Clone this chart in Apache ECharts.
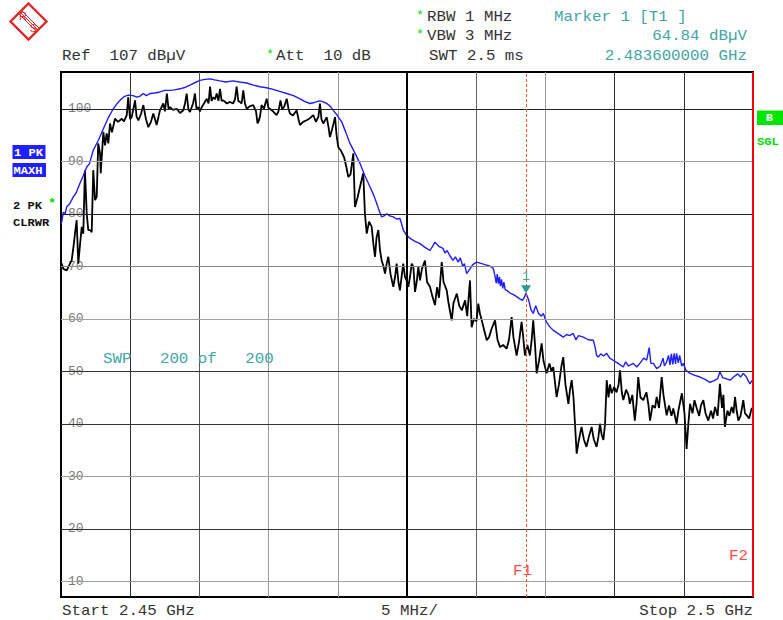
<!DOCTYPE html>
<html><head><meta charset="utf-8">
<script src="https://cdn.jsdelivr.net/npm/echarts@6/dist/echarts.min.js"></script>
<style>html,body{margin:0;padding:0;background:#fff}#c{width:783px;height:620px}</style>
</head><body><div id="c"></div>
<script>
// ---- axis definitions ----
const freqStart = 2450;   // MHz
const freqStop = 2500;    // MHz
const freqDiv = 5;        // MHz / div
const levelMin = 7;       // dBuV
const levelRef = 107;     // dBuV
const levelTicks = [10, 20, 30, 40, 50, 60, 70, 80, 90, 100];
const levelTickColors = ['#a0a0a0', '#333333', '#a0a0a0', '#333333', '#333333', '#a0a0a0', '#888888', '#222222', '#a0a0a0', '#222222'];
const freqLineColors = ['#000000', '#333333', '#555555', '#999999', '#999999', '#000000', '#666666', '#999999', '#333333', '#333333', '#000000'];

// ---- marker ----
const markerFreq = 2483.6;
const markerLevel = 64.84;

// ---- trace 1: PK MAXH (blue) ----
const maxhFreq = [2450.00,2450.05,2450.17,2450.30,2450.41,2450.65,2450.89,2451.10,2451.37,2451.60,2451.86,2452.05,2452.33,2452.70,2453.06,2453.40,2453.78,2454.00,2454.26,2454.55,2454.86,2455.20,2455.50,2455.71,2455.95,2456.15,2456.43,2456.80,2457.15,2457.50,2457.88,2458.20,2458.60,2459.00,2459.32,2459.70,2460.04,2460.40,2460.77,2461.10,2461.49,2461.90,2462.43,2462.90,2463.42,2463.90,2464.38,2464.85,2465.32,2465.80,2466.31,2466.80,2467.27,2467.60,2467.99,2468.30,2468.71,2468.95,2469.20,2469.45,2469.67,2469.95,2470.28,2470.58,2470.88,2471.25,2471.60,2471.95,2472.33,2472.60,2472.81,2473.00,2473.17,2473.35,2473.53,2473.75,2474.01,2474.25,2474.49,2474.62,2474.73,2474.95,2475.22,2475.55,2475.94,2476.30,2476.66,2476.85,2477.02,2477.30,2477.60,2477.75,2477.90,2478.10,2478.32,2478.50,2478.70,2478.85,2479.04,2479.15,2479.31,2479.55,2479.75,2480.03,2480.40,2480.76,2481.00,2481.23,2481.35,2481.45,2481.52,2481.60,2481.68,2481.75,2481.83,2481.92,2482.00,2482.10,2482.20,2482.45,2482.70,2482.92,2483.15,2483.35,2483.50,2483.60,2483.80,2483.95,2484.12,2484.30,2484.50,2484.70,2484.85,2485.05,2485.30,2485.57,2485.90,2486.29,2486.55,2486.75,2487.01,2487.20,2487.40,2487.74,2488.10,2488.46,2488.60,2488.70,2488.82,2489.00,2489.20,2489.43,2489.65,2489.90,2490.25,2490.63,2490.80,2491.00,2491.35,2491.60,2491.85,2492.10,2492.32,2492.50,2492.62,2492.80,2493.04,2493.30,2493.50,2493.60,2493.76,2493.90,2494.00,2494.10,2494.20,2494.30,2494.40,2494.48,2494.60,2494.70,2494.85,2494.96,2495.15,2495.45,2495.80,2496.17,2496.50,2496.89,2497.20,2497.45,2497.61,2497.80,2498.05,2498.34,2498.60,2498.90,2499.10,2499.30,2499.50,2499.78,2499.92,2500.00];
const maxhLevel = [78.0,78.4,80.3,80.0,81.3,82.0,83.2,84.0,85.8,87.2,88.9,89.5,92.1,94.0,96.2,98.2,100.0,100.8,101.6,102.3,102.6,102.5,102.2,102.4,102.9,102.5,102.9,103.0,103.2,103.5,103.5,103.6,103.8,104.1,104.5,105.0,105.4,105.6,105.7,105.5,105.3,105.1,105.3,105.1,104.9,104.5,104.2,104.0,103.7,103.3,102.9,102.5,101.9,101.4,101.0,101.2,101.5,101.3,101.0,100.5,99.7,98.8,97.5,95.5,93.4,91.5,89.6,87.3,85.1,83.5,82.0,80.5,79.4,79.6,80.0,79.6,79.4,79.0,79.1,78.0,76.9,76.0,75.3,74.8,74.3,73.6,73.0,73.8,74.6,73.8,73.4,72.5,73.0,72.0,71.1,71.8,70.8,71.6,69.9,70.5,68.6,69.5,70.3,70.8,70.5,70.2,70.0,69.6,68.2,66.8,68.5,66.7,68.0,66.2,67.5,65.8,67.0,65.5,65.4,64.9,64.6,64.2,63.8,63.5,64.2,64.84,63.5,61.8,61.0,62.5,61.0,60.5,61.0,59.5,58.5,57.8,57.2,56.5,57.0,56.8,57.2,56.0,56.8,56.5,56.0,55.9,54.5,53.0,52.7,53.3,52.9,53.4,52.5,52.1,51.5,50.8,51.8,51.0,51.5,50.8,51.6,52.5,52.1,54.5,51.5,51.5,50.5,51.0,52.5,51.0,51.8,53.0,51.2,53.3,51.3,53.4,51.4,53.4,51.6,53.0,51.0,51.5,50.2,49.6,49.2,48.9,48.5,47.9,48.2,48.6,49.9,48.8,48.6,48.3,48.9,49.5,48.9,49.6,49.0,47.6,48.2,48.0];

// ---- trace 2: PK CLRWR (black) ----
const clrwrFreq = [2450.00,2450.05,2450.17,2450.41,2450.65,2450.77,2450.90,2451.01,2451.13,2451.25,2451.37,2451.50,2451.61,2451.73,2451.86,2451.97,2452.10,2452.22,2452.33,2452.46,2452.58,2452.69,2452.82,2452.87,2453.06,2453.18,2453.30,2453.42,2453.54,2453.68,2453.90,2454.12,2454.39,2454.55,2454.75,2454.86,2454.99,2455.11,2455.35,2455.46,2455.59,2455.78,2455.95,2456.14,2456.31,2456.50,2456.67,2456.91,2457.15,2457.39,2457.51,2457.65,2457.77,2457.88,2458.09,2458.36,2458.60,2458.84,2458.96,2459.08,2459.21,2459.32,2459.54,2459.68,2459.79,2459.92,2460.04,2460.17,2460.33,2460.53,2460.66,2460.77,2460.88,2461.01,2461.13,2461.25,2461.38,2461.49,2461.61,2461.73,2461.98,2462.21,2462.43,2462.57,2462.69,2462.81,2462.93,2463.05,2463.17,2463.29,2463.42,2463.66,2463.89,2464.09,2464.20,2464.26,2464.38,2464.49,2464.66,2464.86,2464.99,2465.10,2465.32,2465.58,2465.71,2465.86,2465.99,2466.14,2466.31,2466.44,2466.54,2466.76,2467.03,2467.16,2467.27,2467.49,2467.75,2467.99,2468.23,2468.42,2468.60,2468.71,2468.82,2468.95,2469.20,2469.33,2469.43,2469.58,2469.80,2469.91,2470.03,2470.23,2470.45,2470.61,2470.76,2470.92,2471.12,2471.24,2471.42,2471.60,2471.84,2471.96,2472.09,2472.26,2472.45,2472.58,2472.69,2472.80,2472.93,2473.05,2473.17,2473.30,2473.41,2473.53,2473.65,2473.81,2474.01,2474.14,2474.25,2474.38,2474.49,2474.61,2474.73,2474.85,2474.97,2475.09,2475.22,2475.34,2475.46,2475.58,2475.70,2475.82,2475.94,2476.08,2476.30,2476.45,2476.66,2476.81,2477.02,2477.17,2477.31,2477.51,2477.64,2477.87,2478.00,2478.23,2478.36,2478.60,2478.77,2478.96,2479.20,2479.35,2479.55,2479.67,2479.84,2480.02,2480.15,2480.27,2480.40,2480.56,2480.76,2480.93,2481.10,2481.36,2481.54,2481.72,2481.94,2482.20,2482.37,2482.56,2482.69,2482.92,2483.09,2483.28,2483.38,2483.52,2483.70,2483.88,2484.01,2484.12,2484.25,2484.37,2484.54,2484.73,2484.86,2485.09,2485.29,2485.44,2485.57,2485.81,2485.98,2486.16,2486.29,2486.45,2486.66,2486.78,2486.90,2487.03,2487.26,2487.39,2487.61,2487.78,2487.97,2488.14,2488.34,2488.50,2488.70,2488.83,2488.94,2489.06,2489.19,2489.31,2489.43,2489.56,2489.67,2489.79,2489.96,2490.14,2490.29,2490.39,2490.52,2490.63,2490.83,2491.00,2491.10,2491.28,2491.46,2491.59,2491.71,2491.87,2492.07,2492.30,2492.45,2492.56,2492.74,2492.92,2493.04,2493.21,2493.40,2493.53,2493.76,2493.93,2494.11,2494.24,2494.48,2494.61,2494.86,2495.05,2495.20,2495.33,2495.45,2495.63,2495.77,2495.94,2496.11,2496.24,2496.41,2496.57,2496.77,2496.97,2497.11,2497.26,2497.44,2497.61,2497.76,2497.86,2497.97,2498.15,2498.29,2498.46,2498.59,2498.70,2498.82,2498.94,2499.10,2499.30,2499.42,2499.55,2499.72,2499.90,2500.00];
const clrwrLevel = [70.0,70.5,69.5,69.2,70.5,71.1,73.7,76.2,78.8,70.5,74.0,77.5,76.2,88.3,80.0,76.9,76.9,76.5,88.3,82.6,83.2,93.4,91.5,87.7,95.6,93.0,95.3,93.4,97.2,95.5,98.1,97.5,98.1,97.6,98.8,102.2,98.0,98.4,101.6,98.5,97.8,99.0,100.7,98.0,96.5,97.5,99.1,96.9,99.7,101.0,99.5,102.9,100.0,100.3,99.8,100.0,99.2,99.7,101.0,102.9,99.8,99.4,101.0,102.9,100.0,100.3,99.5,100.3,101.0,101.9,101.0,104.2,101.5,102.2,101.8,102.9,101.5,103.8,101.5,101.6,101.0,101.3,101.0,101.8,104.2,101.5,101.3,101.0,103.5,101.0,100.0,100.5,100.7,99.5,97.2,97.5,98.5,100.7,100.0,101.9,100.2,100.0,99.5,98.8,99.5,101.6,99.8,100.5,101.9,100.0,99.1,98.7,99.7,98.0,96.9,97.5,97.8,98.2,98.8,97.5,98.5,101.0,98.0,97.2,98.4,96.5,94.6,96.0,98.4,95.0,92.7,92.0,90.8,89.0,87.0,87.5,91.5,81.3,83.0,85.1,87.7,80.0,76.2,78.5,77.5,74.0,71.8,75.5,76.9,73.0,71.1,70.0,68.6,70.5,71.8,68.5,66.1,68.0,70.5,67.0,65.4,68.0,70.5,68.0,67.3,66.1,68.0,70.5,69.9,65.1,67.0,69.9,67.3,69.5,71.1,67.0,66.1,64.5,62.6,66.0,64.0,70.8,67.0,65.4,63.0,59.7,63.0,64.8,62.5,61.6,63.5,60.5,67.3,58.4,60.0,59.5,62.9,61.0,59.7,58.0,55.9,56.5,58.0,59.7,56.0,54.6,55.0,54.3,56.0,60.3,56.5,53.0,55.5,59.4,57.0,53.0,55.0,53.0,56.0,59.7,55.0,49.6,52.0,55.3,52.0,49.6,51.5,50.0,50.8,45.1,47.5,51.0,52.7,47.5,43.8,46.5,48.3,45.0,34.3,36.5,39.4,37.0,35.6,37.5,39.4,37.0,35.6,37.5,40.0,38.0,36.9,40.0,48.3,45.0,47.5,45.8,47.0,46.0,47.5,50.2,46.0,44.5,46.5,45.5,43.8,45.5,40.6,44.0,48.9,45.0,44.5,46.0,43.5,40.6,43.5,43.0,45.1,43.0,48.9,45.5,41.6,43.5,41.5,42.9,40.0,42.5,45.8,42.0,35.2,40.0,43.8,42.0,44.5,42.9,41.5,43.5,44.5,42.0,40.6,42.5,41.0,43.2,41.5,47.6,43.0,45.5,39.4,42.5,41.5,43.2,42.0,45.1,42.5,40.6,41.5,44.5,42.0,41.6,41.0,42.9,43.0];

const MONO = '"Liberation Mono", "DejaVu Sans Mono", monospace';
const TEAL = '#3fa5a5';
const GREEN = '#00dd00';
const LOGO = '#e02828';

function txt(x, y, text, color, o) {
  o = o || {};
  return {
    type: 'text', x: x, y: y, scaleX: o.sx || 1.13, z: 20,
    style: {
      text: text, fill: color, fontFamily: MONO, fontSize: o.fs || 14,
      fontWeight: o.fw || 'normal', align: o.align || 'left', verticalAlign: 'middle'
    }
  };
}

const chart = echarts.init(document.getElementById('c'), null, {renderer: 'svg'});

const graphics = [
  // R&S logo
  {type: 'polygon', z: 20, shape: {points: [[28.5, 3.5], [46.5, 21.5], [28.5, 39.5], [10.5, 21.5]]},
   style: {fill: '#fff', stroke: LOGO, lineWidth: 2.4}},
  {type: 'line', z: 20, shape: {x1: 18.2, y1: 13.2, x2: 36.8, y2: 31.8}, style: {stroke: LOGO, lineWidth: 1}},
  {type: 'line', z: 20, shape: {x1: 19.7, y1: 11.7, x2: 38.3, y2: 30.3}, style: {stroke: LOGO, lineWidth: 1}},
  {type: 'line', z: 20, shape: {x1: 21.2, y1: 10.2, x2: 39.8, y2: 28.8}, style: {stroke: LOGO, lineWidth: 1}},
  {type: 'text', z: 21, x: 23, y: 15.5, style: {text: 'R', fill: LOGO, fontFamily: '"Liberation Sans", Arial', fontSize: 11, align: 'center', verticalAlign: 'middle'}},
  {type: 'text', z: 21, x: 33.5, y: 28, style: {text: 'S', fill: LOGO, fontFamily: '"Liberation Sans", Arial', fontSize: 11, align: 'center', verticalAlign: 'middle'}},

  // header
  txt(62, 56, 'Ref  107 dBµV', '#333'),
  txt(266, 55, '*', GREEN, {fs: 12}),
  txt(276, 56, 'Att  10 dB', '#333'),
  txt(416, 16, '*', GREEN, {fs: 12}),
  txt(427, 17, 'RBW 1 MHz', '#333'),
  txt(416, 35, '*', GREEN, {fs: 12}),
  txt(427, 36, 'VBW 3 MHz', '#333'),
  txt(429, 56, 'SWT 2.5 ms', '#333'),
  txt(554, 17, 'Marker 1 [T1 ]', TEAL),
  txt(747, 36, '64.84 dBµV', TEAL, {align: 'right'}),
  txt(747, 56, '2.483600000 GHz', TEAL, {align: 'right'}),

  // footer
  txt(62, 611, 'Start 2.45 GHz', '#333'),
  txt(381, 611, '5 MHz/', '#333'),
  txt(753, 611, 'Stop 2.5 GHz', '#333', {align: 'right'}),

  // trace info boxes
  {type: 'rect', z: 20, shape: {x: 12.5, y: 145, width: 33, height: 14}, style: {fill: '#1f1fff'}},
  txt(14, 152.5, '1 PK', '#fff', {fs: 11, fw: 'bold', sx: 1.1}),
  {type: 'rect', z: 20, shape: {x: 12.5, y: 163, width: 33.5, height: 14}, style: {fill: '#1f1fff'}},
  txt(13.5, 170.5, 'MAXH', '#fff', {fs: 11, fw: 'bold', sx: 1.1}),
  txt(13, 206, '2 PK', '#111', {fs: 11, fw: 'bold', sx: 1.1}),
  txt(48, 204, '*', GREEN, {fs: 12, fw: 'bold'}),
  txt(13, 223, 'CLRWR', '#111', {fs: 11, fw: 'bold', sx: 1.1}),

  // right side indicators
  {type: 'rect', z: 20, shape: {x: 757, y: 110.5, width: 26, height: 14.5}, style: {fill: '#00e600'}},
  txt(769.5, 118, 'B', '#fff', {fs: 11, fw: 'bold', sx: 1.1, align: 'center'}),
  txt(757, 141.5, 'SGL', GREEN, {fs: 11, fw: 'bold', sx: 1.1}),

  // in-plot texts
  txt(103, 359, 'SWP   200 of   200', TEAL),
  txt(513, 571, 'F1', '#ff4d4d'),
  txt(729, 556, 'F2', '#ff4d4d')
];

const option = {
  animation: false,
  backgroundColor: '#ffffff',
  grid: {left: 61, top: 72, width: 692, height: 525, show: true, borderColor: '#000', borderWidth: 2, backgroundColor: 'transparent'},
  xAxis: {
    type: 'value', min: freqStart, max: freqStop, interval: freqDiv,
    axisLine: {show: false}, axisTick: {show: false}, axisLabel: {show: false},
    splitLine: {show: true, lineStyle: {color: freqLineColors, width: 1}}
  },
  yAxis: {
    type: 'value', min: levelMin, max: levelRef, z: 2,
    axisLine: {show: false}, axisTick: {show: false}, splitLine: {show: false},
    axisLabel: {
      show: true, inside: true, customValues: levelTicks, margin: 6,
      color: '#7a7a7a', fontFamily: MONO, fontSize: 13,
      backgroundColor: '#fff', padding: [0, 1, 0, 1]
    }
  },
  graphic: graphics,
  series: [
    {
      type: 'line', data: [], z: 1, silent: true,
      markLine: {
        silent: true, symbol: ['none', 'none'], label: {show: false},
        data: levelTicks.map((v, i) => ({yAxis: v, lineStyle: {color: levelTickColors[i], width: 1, type: 'solid'}}))
          .concat([
            {xAxis: (freqStart + freqStop) / 2, lineStyle: {color: '#000', width: 2, type: 'solid'}}
          ])
      }
    },
    {
      name: 'CLRWR', type: 'line', z: 3, showSymbol: false, symbol: 'none',
      lineStyle: {color: '#000000', width: 1.8}, itemStyle: {color: '#000'},
      data: clrwrFreq.map((f, i) => [f, clrwrLevel[i]])
    },
    {
      name: 'MAXH', type: 'line', z: 4, showSymbol: false, symbol: 'none',
      lineStyle: {color: '#1e1eff', width: 1.4}, itemStyle: {color: '#1e1eff'},
      data: maxhFreq.map((f, i) => [f, maxhLevel[i]]),
      markLine: {
        silent: true, symbol: ['none', 'none'], label: {show: false},
        data: [
          {xAxis: markerFreq, lineStyle: {color: '#ff5a28', width: 1, type: [3, 2]}},
          {xAxis: freqStop, lineStyle: {color: '#ff0000', width: 2, type: 'solid'}}
        ]
      },
      markPoint: {
        silent: true,
        data: [{
          coord: [markerFreq, markerLevel], symbol: 'triangle', symbolRotate: 180,
          symbolSize: [10, 8], symbolOffset: [0, -4],
          itemStyle: {color: '#2a9a9a'},
          label: {show: true, formatter: '1', position: 'top', distance: 2, color: TEAL, fontFamily: MONO, fontSize: 13}
        }]
      }
    }
  ]
};
chart.setOption(option);
</script>
</body></html>
